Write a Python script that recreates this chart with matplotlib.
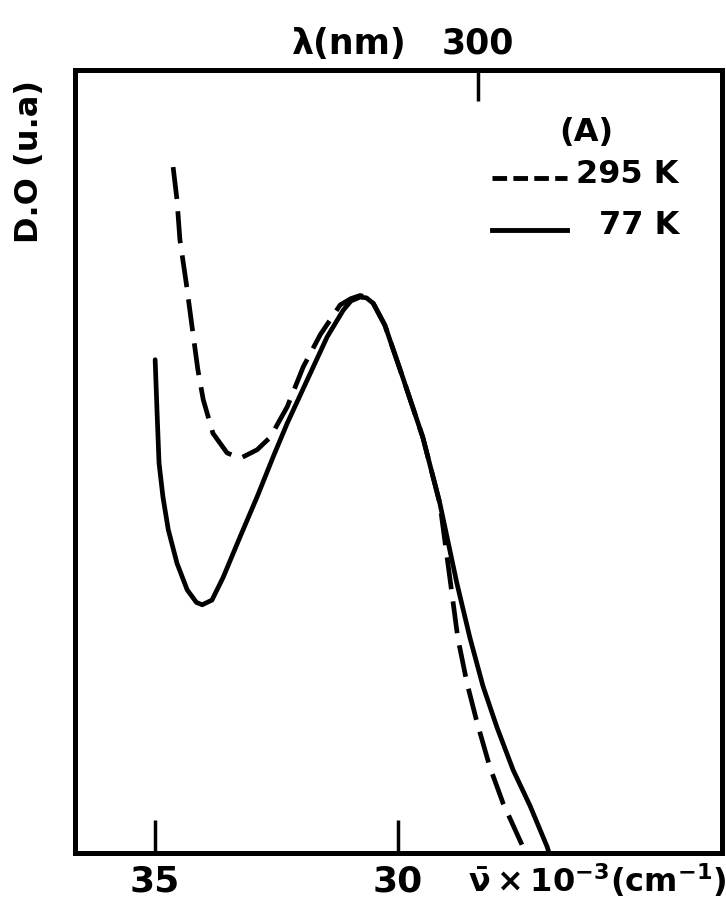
import matplotlib
matplotlib.use("Agg")
import matplotlib.pyplot as plt

# ---- data (wavenumber in 10^3 cm^-1, optical density in arbitrary units 0..1) ----
nu_77 = [35.00, 34.96, 34.92, 34.84, 34.73, 34.55, 34.34, 34.15, 34.03, 33.83, 33.60, 33.25,
         32.90, 32.57, 32.28, 31.87, 31.46, 31.13, 30.97, 30.78, 30.65, 30.51, 30.27, 29.90,
         29.49, 29.14, 28.79, 28.52, 28.25, 27.96, 27.63, 27.28, 26.93, 26.89]
od_77 = [0.630, 0.562, 0.498, 0.455, 0.413, 0.370, 0.336, 0.320, 0.317, 0.323, 0.352, 0.404,
         0.455, 0.506, 0.549, 0.604, 0.659, 0.693, 0.705, 0.710, 0.709, 0.702, 0.674, 0.607,
         0.531, 0.447, 0.345, 0.275, 0.213, 0.160, 0.106, 0.060, 0.008, 0.000]
nu_295 = [34.63, 34.55, 34.49, 34.36, 34.24, 34.12, 34.01, 33.81, 33.52, 33.25, 32.90,
          32.63, 32.28, 31.95, 31.60, 31.19, 30.97, 30.78, 30.65, 30.51, 30.27, 29.90,
          29.49, 29.14, 28.93, 28.77, 28.58, 28.37, 28.11, 27.84, 27.43, 27.39]
od_295 = [0.876, 0.834, 0.783, 0.728, 0.672, 0.617, 0.579, 0.536, 0.511, 0.504, 0.515,
          0.531, 0.570, 0.621, 0.662, 0.700, 0.708, 0.712, 0.710, 0.702, 0.674, 0.607,
          0.531, 0.447, 0.350, 0.275, 0.217, 0.166, 0.110, 0.064, 0.008, 0.000]

bottom_ticks = [35, 30]
bottom_labels = ["35", "30"]
top_tick_pos = [28.35]
top_labels = ["300"]
legend_labels = ["295 K", "77 K"]

plt.rcParams['font.family'] = ['DejaVu Sans']
plt.rcParams['font.weight'] = 'bold'
plt.rcParams['mathtext.default'] = 'bf'

fig = plt.figure(figsize=(7.26, 9.17), dpi=100)
ax = fig.add_axes([75/726, 64/917, (722-75)/726, (853-70)/917])

ax.plot(nu_77, od_77, color='black', lw=3.4, solid_capstyle='round', solid_joinstyle='round')
ax.plot(nu_295, od_295, color='black', lw=3.4, ls=(0, (6.8, 2.6)), dash_capstyle='butt',
        dash_joinstyle='round')

ax.set_xlim(36.65, 23.33)
ax.set_ylim(0, 1)
for s in ax.spines.values():
    s.set_linewidth(3.5)
ax.set_yticks([])
ax.set_xticks(bottom_ticks)
ax.set_xticklabels(bottom_labels, fontsize=26, fontweight='bold')
ax.tick_params(axis='x', direction='in', length=24, width=2.5, pad=8)

ax2 = ax.twiny()
ax2.set_xlim(ax.get_xlim())
ax2.set_xticks(top_tick_pos)
ax2.set_xticklabels(top_labels, fontsize=25, fontweight='bold')
ax2.tick_params(axis='x', direction='in', length=22, width=2.5, pad=7)
for s in ax2.spines.values():
    s.set_linewidth(3.5)

fig.text(292/726, 1 - 44/917, "λ(nm)", fontsize=25, fontweight='bold', ha='left', va='center')
fig.text(468/726, 1 - 880/917, r"$\bar{\nu}\times10^{-3}(\mathrm{cm}^{-1})$", fontsize=23,
         ha='left', va='center')
fig.text(30/726, 1 - 80/917, "D.O (u.a)", fontsize=23, fontweight='bold', rotation=90,
         ha='center', va='top')

# legend drawn by hand
ax.text(0.79, 0.92, "(A)", transform=ax.transAxes, fontsize=23, fontweight='bold',
        ha='center', va='center')
ax.plot([0.645, 0.76], [0.862, 0.862], transform=ax.transAxes, color='black', lw=3.5,
        ls=(0, (3, 1.3)))
ax.text(0.775, 0.866, legend_labels[0], transform=ax.transAxes, fontsize=23, fontweight='bold',
        ha='left', va='center')
ax.plot([0.645, 0.76], [0.796, 0.796], transform=ax.transAxes, color='black', lw=3.5)
ax.text(0.81, 0.802, legend_labels[1], transform=ax.transAxes, fontsize=23, fontweight='bold',
        ha='left', va='center')

fig.savefig("out.png", dpi=100)
